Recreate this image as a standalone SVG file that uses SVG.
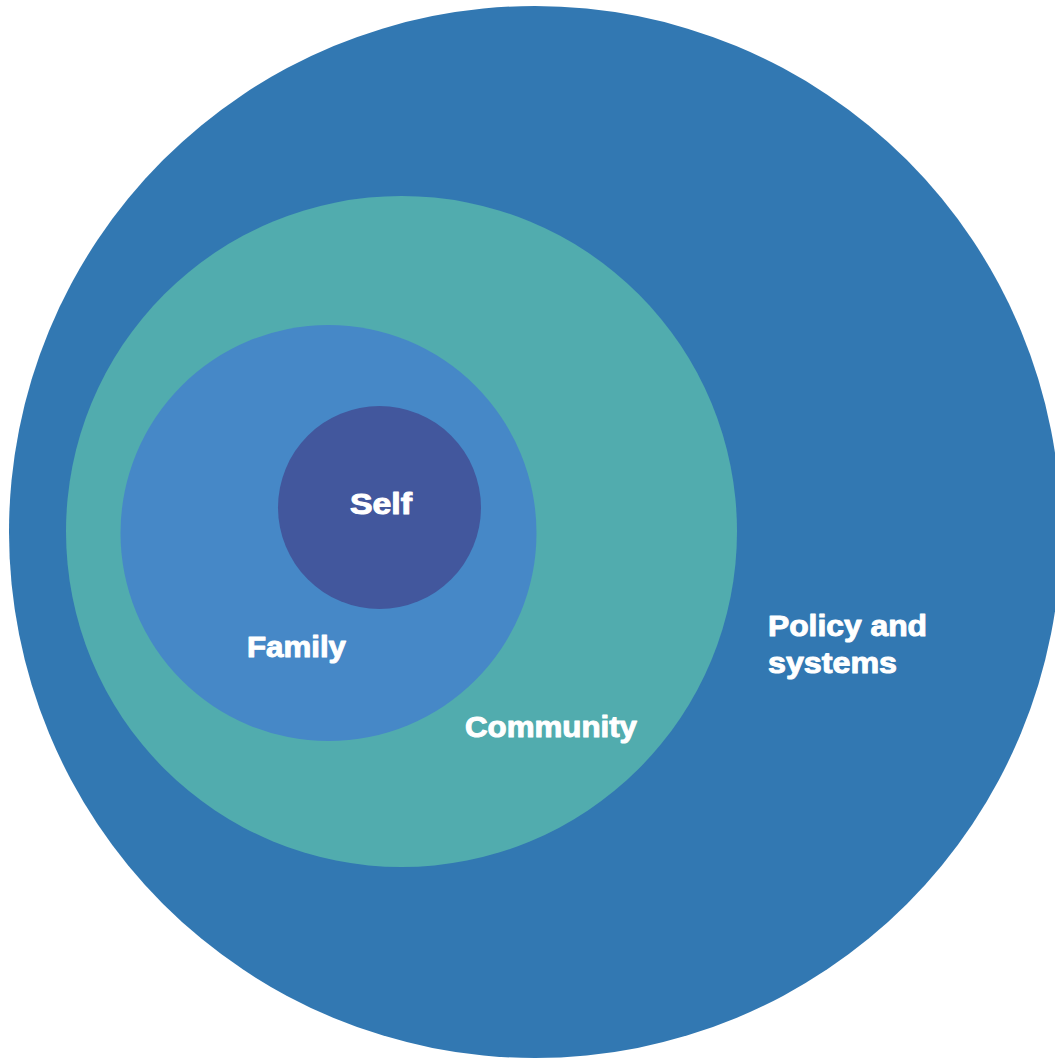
<svg xmlns="http://www.w3.org/2000/svg" width="1055" height="1061" viewBox="0 0 1055 1061">
<style>
.lbl{font-family:"Liberation Sans",Arial,sans-serif;font-weight:bold;font-size:29px;fill:#ffffff;stroke:#ffffff;stroke-width:1;stroke-linejoin:round}
</style>
<rect width="1055" height="1061" fill="#ffffff"/>
<g id="policy">
<circle cx="535" cy="532" r="526" fill="#3278b2"/>
<text class="lbl" x="768" y="636" textLength="159" lengthAdjust="spacingAndGlyphs">Policy and</text>
<text class="lbl" x="768" y="673" textLength="129" lengthAdjust="spacingAndGlyphs">systems</text>
</g>
<g id="community">
<circle cx="401.5" cy="531.5" r="335.5" fill="#51acae"/>
<text class="lbl" x="465" y="737" textLength="172" lengthAdjust="spacingAndGlyphs">Community</text>
</g>
<g id="family">
<circle cx="328.5" cy="533" r="208" fill="#4688c7"/>
<text class="lbl" x="247" y="657" textLength="99" lengthAdjust="spacingAndGlyphs">Family</text>
</g>
<g id="self">
<circle cx="379.5" cy="507.5" r="101.5" fill="#42579d"/>
<text class="lbl" x="350" y="514" textLength="62" lengthAdjust="spacingAndGlyphs">Self</text>
</g>
<g id="connectors"/>
</svg>
